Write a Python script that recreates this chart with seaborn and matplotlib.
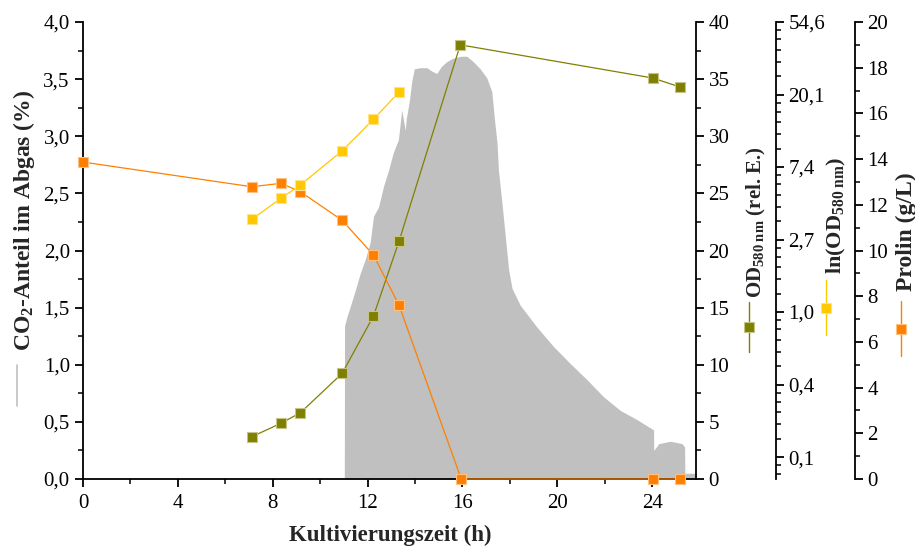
import numpy as np
import matplotlib
matplotlib.use("Agg")
import matplotlib.pyplot as plt
import seaborn as sns
from matplotlib.lines import Line2D
from matplotlib.ticker import FixedLocator, MultipleLocator, FuncFormatter, NullFormatter

# ---------------- data ----------------
co2_time = [11.02, 11.03, 11.13, 11.27, 11.48, 11.69, 11.90, 12.11, 12.25, 12.46, 12.67,
            12.88, 13.09, 13.30, 13.44, 13.55, 13.59, 13.63, 13.77, 13.87, 13.97, 14.22,
            14.50, 14.71, 14.92, 15.11, 15.32, 15.56, 15.91, 16.19, 16.47, 16.75, 17.03,
            17.24, 17.34, 17.46, 17.52, 17.67, 17.81, 17.95, 18.09, 18.44, 19.14, 19.84,
            20.55, 21.25, 21.95, 22.66, 23.36, 24.06, 24.07, 24.28, 24.77, 25.26, 25.37,
            25.38, 25.85]
co2_pct = [0.0, 1.34, 1.42, 1.51, 1.65, 1.80, 1.92, 2.07, 2.30, 2.38, 2.56,
           2.70, 2.86, 2.97, 3.23, 3.10, 3.05, 3.15, 3.32, 3.49, 3.59, 3.60,
           3.60, 3.57, 3.55, 3.61, 3.65, 3.68, 3.70, 3.70, 3.65, 3.59, 3.51,
           3.39, 3.17, 2.94, 2.70, 2.41, 2.12, 1.83, 1.67, 1.52, 1.33, 1.16,
           1.01, 0.87, 0.72, 0.60, 0.52, 0.43, 0.25, 0.31, 0.33, 0.31, 0.28,
           0.05, 0.05]

od_time = [7.12, 8.35, 9.17, 10.93, 12.25, 13.33, 15.91, 24.02, 25.19]
od_value = [3.70, 4.88, 5.80, 9.25, 14.27, 20.83, 38.0, 35.1, 34.3]

lnod_time = [7.12, 8.35, 9.17, 10.93, 12.25, 13.33]
lnod_value = [3.59, 4.80, 5.77, 9.25, 14.27, 20.8]

prolin_time = [0.0, 7.12, 8.35, 9.17, 10.93, 12.25, 13.33, 15.95, 24.02, 25.19]
prolin_value = [13.87, 12.79, 12.94, 12.57, 11.32, 9.80, 7.60, 0.0, 0.0, 0.0]

x_ticks = [0, 4, 8, 12, 16, 20, 24]
co2_ticks = [0.0, 0.5, 1.0, 1.5, 2.0, 2.5, 3.0, 3.5, 4.0]
od_ticks = [0, 5, 10, 15, 20, 25, 30, 35, 40]
prolin_ticks = [0, 2, 4, 6, 8, 10, 12, 14, 16, 18, 20]
ln_exponents = [-2, -1, 0, 1, 2, 3, 4]

# ---------------- style ----------------
sns.set_style("ticks")
plt.rcParams["font.family"] = ["Liberation Serif", "DejaVu Serif"]
plt.rcParams["mathtext.fontset"] = "custom"
plt.rcParams["mathtext.rm"] = "Liberation Serif"
plt.rcParams["mathtext.bf"] = "Liberation Serif:bold"
plt.rcParams["mathtext.it"] = "Liberation Serif:italic"

GRAY = "#c0c0c0"
OLIVE = "#808000"
YELLOW = "#ffc800"
ORANGE = "#ff8000"
TICK_FS = 15

W, H = 915, 548
fig = plt.figure(figsize=(W / 100, H / 100), dpi=100)
L, R, T, B = 83, 696, 22, 479
ax = fig.add_axes([L / W, 1 - B / H, (R - L) / W, (B - T) / H])

def comma(fmt):
    return FuncFormatter(lambda v, p: (fmt % v).replace(".", ","))

def style_axis(a, side):
    for s in ["top", "bottom", "left", "right"]:
        a.spines[s].set_visible(False)
    a.spines[side].set_visible(True)
    a.spines[side].set_linewidth(1.3)
    a.spines[side].set_color("black")
    a.tick_params(axis="y", which="major", length=6, width=1.3, labelsize=TICK_FS,
                  direction="out", pad=3, colors="black")
    a.tick_params(axis="y", which="minor", length=3.5, width=1.3, direction="out")

# ---- CO2 area ----
ax.fill_between(co2_time, co2_pct, 0, color=GRAY, lw=0, zorder=1)
ax.set_xlim(0, 25.85)
ax.set_ylim(0, 4.0)
ax.spines["top"].set_visible(False)
ax.spines["right"].set_visible(False)
for s in ["left", "bottom"]:
    ax.spines[s].set_linewidth(1.3)
    ax.spines[s].set_color("black")
ax.xaxis.set_major_locator(FixedLocator(x_ticks))
ax.xaxis.set_minor_locator(MultipleLocator(2))
ax.yaxis.set_major_locator(FixedLocator(co2_ticks))
ax.yaxis.set_minor_locator(MultipleLocator(0.25))
ax.yaxis.set_major_formatter(comma("%.1f"))
ax.tick_params(axis="both", which="major", length=6, width=1.3, labelsize=TICK_FS,
               direction="out", colors="black")
ax.tick_params(axis="both", which="minor", length=3.5, width=1.3, direction="out")
ax.tick_params(axis="x", pad=5)
ax.set_xlabel("")
ax.set_ylabel("")
ax.grid(False)

mk = dict(marker="s", markersize=7, markeredgewidth=0.8, linewidth=0.9, clip_on=False)

# ---- OD axis ----
ax_od = ax.twinx()
style_axis(ax_od, "right")
sns.lineplot(x=od_time, y=od_value, ax=ax_od, color=OLIVE, markeredgecolor="#c4c48a",
             zorder=3, **mk)
ax_od.set_ylim(0, 40)
ax_od.yaxis.set_major_locator(FixedLocator(od_ticks))
ax_od.yaxis.set_minor_locator(MultipleLocator(2.5))
ax_od.set_ylabel("")

# ---- Prolin axis ----
ax_pr = ax.twinx()
style_axis(ax_pr, "right")
ax_pr.spines["right"].set_position(("axes", (855 - L) / (R - L)))
sns.lineplot(x=prolin_time, y=prolin_value, ax=ax_pr, color=ORANGE, markeredgecolor="#ffc080",
             zorder=3, **mk)
ax_pr.set_ylim(0, 20)
ax_pr.yaxis.set_major_locator(FixedLocator(prolin_ticks))
ax_pr.yaxis.set_minor_locator(MultipleLocator(1))
ax_pr.set_ylabel("")

# ---- ln(OD) axis ----
ax_ln = ax.twinx()
style_axis(ax_ln, "right")
ax_ln.spines["right"].set_position(("axes", (776 - L) / (R - L)))
sns.lineplot(x=lnod_time, y=lnod_value, ax=ax_ln, color=YELLOW, markeredgecolor="#ffe38a",
             zorder=3, **mk)
ax_ln.set_yscale("log", base=np.e)
ax_ln.set_ylim(0.1, 54.6)
majors = [np.e ** k for k in ln_exponents]
ax_ln.yaxis.set_major_locator(FixedLocator(majors))
ax_ln.yaxis.set_major_formatter(comma("%.1f"))
minors = []
for k in range(-3, 4):
    lo, hi = np.e ** k, np.e ** (k + 1)
    for j in range(1, 6):
        v = lo + j * (hi - lo) / 6
        if 0.1 <= v <= 54.6:
            minors.append(v)
ax_ln.yaxis.set_minor_locator(FixedLocator(minors))
ax_ln.yaxis.set_minor_formatter(NullFormatter())
ax_ln.set_ylabel("")

for a in (ax_od, ax_pr, ax_ln):
    a.set_xlim(0, 25.85)

# ---------------- labels with legend glyphs ----------------
def fx(px):
    return px / W

def fy(py):
    return 1 - py / H

fig.text(fx(390), fy(535), "Kultivierungszeit (h)", ha="center", va="center",
         fontsize=16.5, fontweight="bold")

fig.text(fx(24), fy(220), r"CO$_{\mathbf{2}}$-Anteil im Abgas (%)", rotation=90,
         ha="center", va="center", fontsize=17, fontweight="bold")
fig.add_artist(Line2D([fx(17), fx(17)], [fy(365), fy(406)], transform=fig.transFigure,
                      color=GRAY, lw=1.2))

def glyph(x, y0, y1, color, edge):
    fig.add_artist(Line2D([fx(x), fx(x)], [fy(y0), fy(y1)], transform=fig.transFigure,
                          color=color, lw=1.0))
    fig.add_artist(Line2D([fx(x)], [fy((y0 + y1) / 2)], transform=fig.transFigure,
                          marker="s", markersize=7, color=color, markeredgecolor=edge,
                          markeredgewidth=0.8, lw=0))

fig.text(fx(756), fy(222), r"OD$_{\mathbf{580\ nm}}$ (rel. E.)", rotation=90,
         ha="center", va="center", fontsize=15, fontweight="bold")
glyph(749, 302, 352, OLIVE, "#c4c48a")

fig.text(fx(836), fy(215), r"ln(OD$_{\mathbf{580\ nm}}$)", rotation=90,
         ha="center", va="center", fontsize=16, fontweight="bold")
glyph(826, 280, 335, YELLOW, "#ffe38a")

fig.text(fx(906), fy(232), "Prolin (g/L)", rotation=90,
         ha="center", va="center", fontsize=17, fontweight="bold")
glyph(901, 301, 356, ORANGE, "#ffc080")

fig.savefig("out.png", dpi=100)
